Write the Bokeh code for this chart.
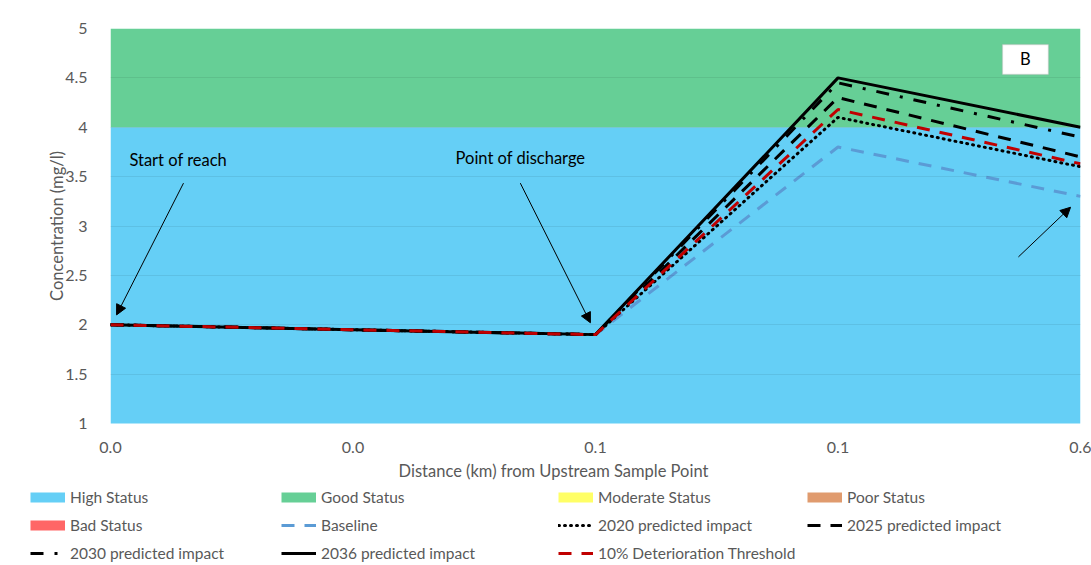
from bokeh.plotting import figure
from bokeh.models import (Range1d, FixedTicker, Legend, LegendItem, Label, Arrow,
                          NormalHead, BoxAnnotation)
from bokeh.embed import file_html
from bokeh.resources import INLINE

# ---- data ----
x_labels = ["0.0", "0.0", "0.1", "0.1", "0.6"]
baseline = [2.0, 1.95, 1.9, 3.8, 3.3]
impact_2020 = [2.0, 1.95, 1.9, 4.1, 3.6]
impact_2025 = [2.0, 1.95, 1.9, 4.3, 3.7]
impact_2030 = [2.0, 1.95, 1.9, 4.45, 3.9]
impact_2036 = [2.0, 1.95, 1.9, 4.5, 4.0]
threshold = [2.0, 1.95, 1.9, 4.18, 3.63]
high_status = [4, 4, 4, 4, 4]
good_status = [1, 1, 1, 1, 1]
moderate_status = [0, 0, 0, 0, 0]
poor_status = [0, 0, 0, 0, 0]
bad_status = [0, 0, 0, 0, 0]
y_ticks = [1, 1.5, 2, 2.5, 3, 3.5, 4, 4.5, 5]

FONT = "Lato"
GRAY = "#595959"
TXT = "16.5px"
NAN = float("nan")

xs = list(range(len(x_labels)))

p = figure(width=1091, height=455, output_backend="svg", toolbar_location=None,
           x_range=Range1d(0, len(x_labels) - 1), y_range=Range1d(1, 5),
           min_border_left=110, min_border_right=11, min_border_top=28,
           min_border_bottom=31)
p.outline_line_color = None
p.background_fill_color = "white"

band_styles = {"High Status": "#65CFF6", "Good Status": "#66CF96",
               "Moderate Status": "#FFFF66", "Poor Status": "#E09B6E",
               "Bad Status": "#FF6666"}
bands = [("High Status", high_status), ("Good Status", good_status),
         ("Moderate Status", moderate_status), ("Poor Status", poor_status),
         ("Bad Status", bad_status)]
cum = [0] * len(xs)
for name, vals in bands:
    top = [c + v for c, v in zip(cum, vals)]
    p.varea(x=xs, y1=cum, y2=top, fill_color=band_styles[name])
    cum = top

line_styles = {
    "Baseline": dict(line_color="#5B9BD5", line_width=3, line_dash="13 10"),
    "2020 predicted impact": dict(line_color="black", line_width=3, line_dash="1 5",
                                  line_cap="round"),
    "2025 predicted impact": dict(line_color="black", line_width=3, line_dash="13 10"),
    "2030 predicted impact": dict(line_color="black", line_width=3, line_dash="13 11 3 11"),
    "2036 predicted impact": dict(line_color="black", line_width=3),
    "10% Deterioration Threshold": dict(line_color="#C00000", line_width=3, line_dash="13 10"),
}
series = [("Baseline", baseline), ("2020 predicted impact", impact_2020),
          ("2025 predicted impact", impact_2025), ("2030 predicted impact", impact_2030),
          ("2036 predicted impact", impact_2036), ("10% Deterioration Threshold", threshold)]
for name, vals in series:
    p.line(xs, vals, **line_styles[name])

# axes
p.xaxis.ticker = FixedTicker(ticks=xs)
p.xaxis.major_label_overrides = {i: l for i, l in zip(xs, x_labels)}
p.yaxis.ticker = FixedTicker(ticks=y_ticks)
p.yaxis.major_label_overrides = {t: ("%g" % t) for t in y_ticks}
for ax in (p.xaxis, p.yaxis):
    ax.axis_line_color = None
    ax.major_tick_line_color = None
    ax.minor_tick_line_color = None
    ax.major_label_text_font = FONT
    ax.major_label_text_font_size = "16px"
    ax.major_label_text_color = GRAY
p.yaxis.major_label_standoff = 17
p.xaxis.major_label_standoff = 12
p.yaxis.axis_label = "Concentration (mg/l)"
p.yaxis.axis_label_text_font = FONT
p.yaxis.axis_label_text_font_size = TXT
p.yaxis.axis_label_text_font_style = "normal"
p.yaxis.axis_label_text_color = GRAY
p.yaxis.axis_label_standoff = -5

p.xgrid.grid_line_color = None
p.ygrid.ticker = FixedTicker(ticks=y_ticks)
p.ygrid.grid_line_color = "black"
p.ygrid.grid_line_alpha = 0.07
p.ygrid.level = "overlay"

# annotations
for tx, ty, t in [(0.078, 3.667, "Start of reach"), (1.423, 3.687, "Point of discharge")]:
    p.add_layout(Label(x=tx, y=ty, text=t, text_font=FONT, text_font_size=TXT,
                       text_color="black", text_baseline="middle"))
for (x0, y0, x1, y1) in [(0.301, 3.434, 0.025, 2.10), (1.69, 3.434, 1.979, 2.02),
                         (3.744, 2.687, 3.959, 3.19)]:
    p.add_layout(Arrow(x_start=x0, y_start=y0, x_end=x1, y_end=y1, line_width=1,
                       line_color="black",
                       end=NormalHead(size=10, fill_color="black", line_color="black")))

p.add_layout(BoxAnnotation(left=3.678, right=3.868, top=4.838, bottom=4.535,
                           fill_color="white", fill_alpha=1, line_color="#A6A6A6",
                           line_width=1.5, level="annotation"))
p.add_layout(Label(x=3.773, y=4.687, text="B", text_font=FONT, text_font_size=TXT,
                   text_color="black", text_align="center", text_baseline="middle"))

# ---- lower strip (separate root): x-axis title and legend ----
H2 = 110
p2 = figure(width=1091, height=H2, output_backend="svg", toolbar_location=None,
            x_range=Range1d(0, 1091), y_range=Range1d(0, H2),
            x_axis_type=None, y_axis_type=None, min_border=0)
p2.outline_line_color = None
p2.grid.visible = False

p2.add_layout(Label(x=553, y=H2 - 15, text="Distance (km) from Upstream Sample Point",
                    text_font=FONT, text_font_size=TXT, text_color=GRAY,
                    text_align="center", text_baseline="middle"))

proxy = {}
for name, col in band_styles.items():
    proxy[name] = p2.line(x=[NAN], y=[NAN], line_color=col, line_width=10, line_cap="butt")
for name, st in line_styles.items():
    proxy[name] = p2.line(x=[NAN], y=[NAN], **st)

legend_cols = [
    (30, ["High Status", "Bad Status", "2030 predicted impact"]),
    (281, ["Good Status", "Baseline", "2036 predicted impact"]),
    (558, ["Moderate Status", "2020 predicted impact", "10% Deterioration Threshold"]),
    (807, ["Poor Status", "2025 predicted impact"]),
]
ROW_H, GAP, TOP = 20, 8, 32
for left, names in legend_cols:
    n = len(names)
    h = n * ROW_H + (n - 1) * GAP
    leg = Legend(items=[LegendItem(label=nm, renderers=[proxy[nm]]) for nm in names],
                 location=(left, H2 - TOP - h),
                 orientation="vertical", glyph_width=35, glyph_height=ROW_H,
                 label_height=ROW_H, spacing=GAP, padding=0, margin=0, label_standoff=5,
                 label_text_font=FONT, label_text_font_size="15.5px", label_text_color=GRAY,
                 border_line_alpha=0, background_fill_alpha=0)
    p2.add_layout(leg, "center")

open("out.html", "w").write(file_html([p, p2], INLINE))
